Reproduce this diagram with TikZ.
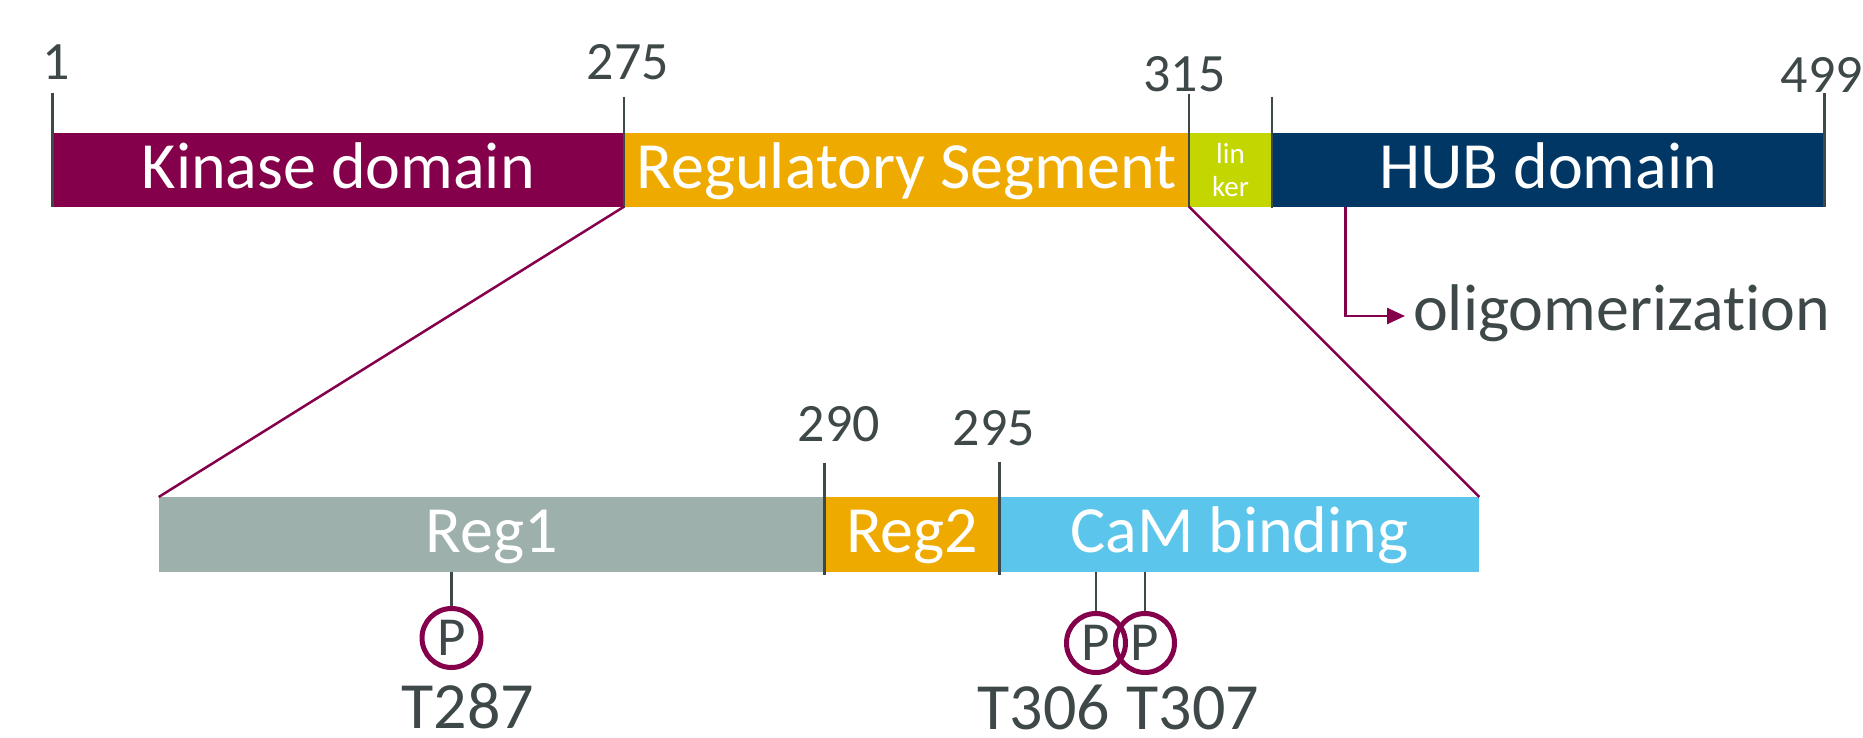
\documentclass[tikz,border=0pt]{standalone}
\usepackage{fontspec}
\setmainfont{Carlito}[Ligatures={NoCommon,NoContextual}]
\usetikzlibrary{arrows.meta,calc}
\definecolor{kincol}{HTML}{85004B}
\definecolor{regcol}{HTML}{EFAA00}
\definecolor{lnkcol}{HTML}{C4D600}
\definecolor{hubcol}{HTML}{003764}
\definecolor{reg1col}{HTML}{9DB0AC}
\definecolor{camcol}{HTML}{5BC5EB}
\definecolor{txtgray}{HTML}{3F4848}
\begin{document}
\begin{tikzpicture}[x=1pt,y=-1pt,
  bar/.style={rectangle, inner sep=0pt, outer sep=0pt, anchor=north west, text=white,
    font=\fontsize{66}{70}\selectfont, text height=45pt, text depth=8.4pt},
  num/.style={anchor=base, inner sep=0pt, text=txtgray, font=\fontsize{54}{60}\selectfont},
  lbl/.style={anchor=base, inner sep=0pt, text=txtgray, font=\fontsize{66}{70}\selectfont},
  tick/.style={draw=txtgray, line width=2.5pt},
  zoomline/.style={draw=kincol, line width=2.5pt},
  pcirc/.style={circle, draw=kincol, line width=5pt, minimum size=59pt, inner sep=0pt,
    text=txtgray, font=\fontsize{55}{60}\selectfont}]
\useasboundingbox (0,0) rectangle (1863,737);

% top bar
\node[bar, fill=kincol, minimum width=571.3pt, minimum height=74pt] (kin) at (52.7,132.7) {Kinase domain};
\node[bar, fill=regcol, minimum width=565pt, minimum height=74pt] (reg) at (624,132.7) {Regulatory Segment};
\node[bar, fill=lnkcol, minimum width=83pt, minimum height=74pt, align=center,
      font=\fontsize{29}{33}\selectfont, text height=, text depth=] (lnk) at (1189,132.7) {lin\\ker};
\node[bar, fill=hubcol, minimum width=552.4pt, minimum height=74pt] (hub) at (1272,132.7) {HUB domain};

% top ticks
\draw[tick] (kin.north west) ++(0,-40) -- (kin.south west);
\draw[tick] (reg.north west) ++(0,-36) -- ($(reg.south west)+(0,1.5)$);
\draw[tick] (lnk.north west) ++(0,-39) -- (lnk.south west);
\draw[tick] (hub.north west) ++(0,-36) -- ($(hub.south west)+(0,1.5)$);
\draw[tick] (hub.north east) ++(0,-40) -- (hub.south east);

% top numbers
\node[num] (n1) at (56,79) {1};
\node[num] (n275) at (628,79) {275};
\node[num] (n315) at (1184.6,91.7) {315};
\node[num] (n499) at (1822,92) {499};

% bottom bar
\node[bar, fill=reg1col, minimum width=665.9pt, minimum height=75pt] (reg1) at (158.7,497) {Reg1};
\node[bar, fill=regcol, minimum width=175.1pt, minimum height=75pt] (reg2) at (824.6,497) {Reg2};
\node[bar, fill=camcol, minimum width=479.6pt, minimum height=75pt] (cam) at (999.7,497) {CaM binding};

% bottom ticks
\draw[tick] (reg2.north west) ++(0,-34) -- ($(reg2.south west)+(0,3)$);
\draw[tick] (cam.north west) ++(0,-35) -- ($(cam.south west)+(0,3)$);

\node[num] (n290) at (839,441.7) {290};
\node[num] (n295) at (994,445) {295};

% zoom lines
\draw[zoomline] (reg.south west) -- (reg1.north west);
\draw[zoomline] (reg.south east) -- (cam.north east);

% oligomerization
\node[lbl, anchor=base west] (olig) at (1413,330) {oligomerizat\kern0pt ion};
\coordinate (oligtip) at (1405,316);
\draw[draw=kincol, line width=2.5pt, -{Triangle[length=18pt,width=16pt]}] (hub.south west) ++(73.5,0) |- (oligtip);

% phosphorylation sites
\node[pcirc] (p287) at (451.5,638) {P};
\node[pcirc] (p306) at (1096,643) {P};
\node[pcirc] (p307) at (1145,643) {P};
\draw[tick] (reg1.south -| p287.north) -- (p287.north);
\draw[tick] (cam.south -| p306.north) -- (p306.north);
\draw[tick] (cam.south -| p307.north) -- (p307.north);

\node[lbl] (t287) at (468,728) {T287};
\node[lbl] (t306) at (1044,729.5) {T306};
\node[lbl] (t307) at (1193,729.5) {T307};
\end{tikzpicture}
\end{document}
